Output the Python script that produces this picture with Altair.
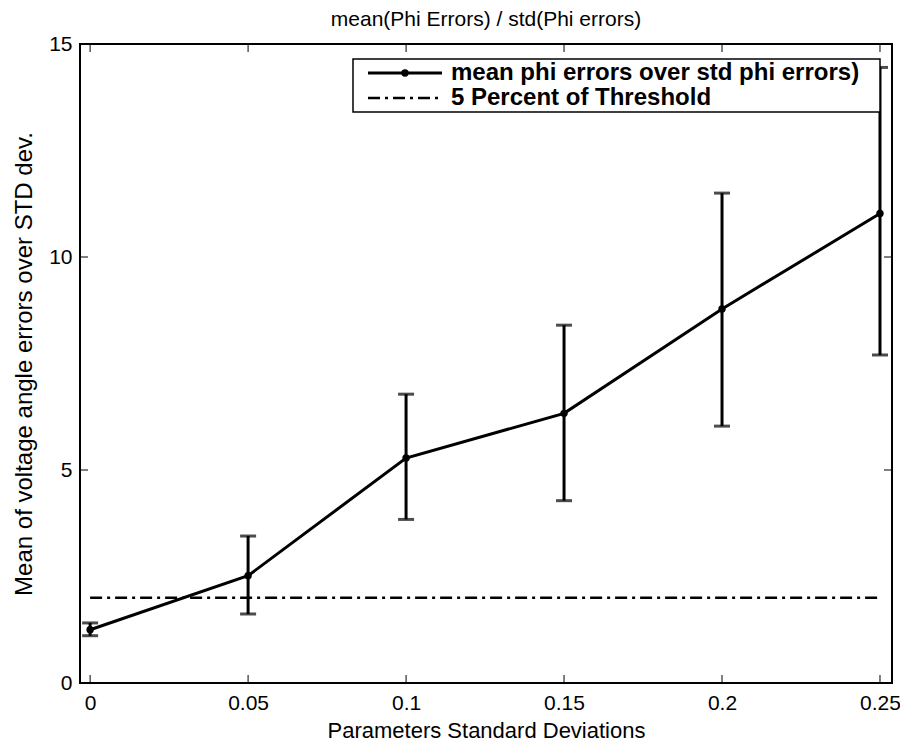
import altair as alt
import pandas as pd

# ---- data ----
xs = [0.0, 0.05, 0.10, 0.15, 0.20, 0.25]
means = [1.25, 2.52, 5.28, 6.33, 8.78, 11.02]
lower = [1.11, 1.62, 3.84, 4.28, 6.03, 7.70]
upper = [1.41, 3.45, 6.78, 8.40, 11.50, 14.45]

thr_x = [0.0, 0.25]
thr_y = [2.0, 2.0]

x_ticks = [0.0, 0.05, 0.10, 0.15, 0.20, 0.25]
y_ticks = [0, 5, 10, 15]

title_text = "mean(Phi Errors)  / std(Phi errors)"
x_title = "Parameters Standard Deviations"
y_title = "Mean of voltage angle errors over STD dev."
legend_labels = ["mean phi errors over std phi errors)", "5 Percent of Threshold"]

# ---- layout ----
W, H = 812, 639
FONT = "Liberation Sans"

df = pd.DataFrame({"x": xs, "mean": means, "lower": lower, "upper": upper})
thr = pd.DataFrame({"x": thr_x, "y": thr_y})
xt = pd.DataFrame({"x": x_ticks})
yt = pd.DataFrame({"y": y_ticks})

xscale = alt.Scale(domain=[-0.0032, 0.2538], nice=False, zero=False)
yscale = alt.Scale(domain=[0, 15], nice=False, zero=False)

x_axis = alt.Axis(values=x_ticks, format="~g", title=x_title, labelPadding=9,
                  titlePadding=7, titleFontSize=22)
y_axis = alt.Axis(values=y_ticks, title=y_title, labelPadding=8, titlePadding=12,
                  titleFontSize=24)


def X(field="x"):
    return alt.X(f"{field}:Q", scale=xscale, axis=x_axis)


def Y(field):
    return alt.Y(f"{field}:Q", scale=yscale, axis=y_axis)


DASH = [12, 5, 3, 5]

threshold = alt.Chart(thr).mark_line(
    color="black", strokeWidth=2.5, strokeDash=DASH
).encode(x=X(), y=Y("y"))

err_rule = alt.Chart(df).mark_rule(color="black", strokeWidth=3).encode(
    x=X(), y=Y("lower"), y2="upper:Q"
)
cap_lo = alt.Chart(df).mark_tick(
    color="black", orient="horizontal", size=16, thickness=3
).encode(x=X(), y=Y("lower"))
cap_hi = alt.Chart(df).mark_tick(
    color="black", orient="horizontal", size=16, thickness=3
).encode(x=X(), y=Y("upper"))

main_line = alt.Chart(df).mark_line(color="black", strokeWidth=3).encode(
    x=X(), y=Y("mean")
)
main_pts = alt.Chart(df).mark_point(
    color="black", filled=True, size=55, opacity=1
).encode(x=X(), y=Y("mean"))

# inward ticks on all four sides (MATLAB box style)
TL = 8
xt_bot = alt.Chart(xt).mark_rule(color="black", strokeWidth=1).encode(
    x=X(), y=alt.value(H - TL), y2=alt.value(H)
)
xt_top = alt.Chart(xt).mark_rule(color="black", strokeWidth=1).encode(
    x=X(), y=alt.value(0), y2=alt.value(TL)
)
yt_left = alt.Chart(yt).mark_rule(color="black", strokeWidth=1).encode(
    y=Y("y"), x=alt.value(0), x2=alt.value(TL)
)
yt_right = alt.Chart(yt).mark_rule(color="black", strokeWidth=1).encode(
    y=Y("y"), x=alt.value(W - TL), x2=alt.value(W)
)

# ---- legend box (drawn on top, like MATLAB) ----
one = pd.DataFrame({"k": [0]})
LX0, LX1, LY0, LY1 = 273, 800, 15, 68
R1, R2 = 29, 54
leg_box = alt.Chart(one).mark_rect(
    fill="white", stroke="black", strokeWidth=1.5
).encode(x=alt.value(LX0), x2=alt.value(LX1), y=alt.value(LY0), y2=alt.value(LY1))
leg_l1 = alt.Chart(one).mark_rule(color="black", strokeWidth=3).encode(
    x=alt.value(288), x2=alt.value(362), y=alt.value(R1)
)
leg_p1 = alt.Chart(one).mark_point(
    color="black", filled=True, size=55, opacity=1
).encode(x=alt.value(325), y=alt.value(R1))
leg_l2 = alt.Chart(one).mark_rule(
    color="black", strokeWidth=2.5, strokeDash=DASH
).encode(x=alt.value(288), x2=alt.value(362), y=alt.value(R2))
leg_t1 = alt.Chart(pd.DataFrame({"label": [legend_labels[0]]})).mark_text(
    align="left", baseline="middle", font=FONT, fontSize=24, fontWeight="bold",
    color="black"
).encode(x=alt.value(371), y=alt.value(R1), text="label:N")
leg_t2 = alt.Chart(pd.DataFrame({"label": [legend_labels[1]]})).mark_text(
    align="left", baseline="middle", font=FONT, fontSize=24, fontWeight="bold",
    color="black"
).encode(x=alt.value(371), y=alt.value(R2), text="label:N")

chart = alt.layer(
    threshold, err_rule, cap_lo, cap_hi, main_line, main_pts,
    xt_bot, xt_top, yt_left, yt_right,
    leg_box, leg_l1, leg_p1, leg_l2, leg_t1, leg_t2,
).properties(
    width=W, height=H,
    autosize=alt.AutoSizeParams(type="none"),
    padding={"left": 72, "top": 36, "right": 8, "bottom": 60},
    title=alt.TitleParams(title_text, fontSize=21, fontWeight="normal", font=FONT,
                          color="black", offset=3, anchor="middle"),
    background="white",
).configure_view(
    stroke="black", strokeWidth=2
).configure_axis(
    domain=False, ticks=False, grid=False,
    labelFont=FONT, labelFontSize=21, labelColor="black",
    titleFont=FONT, titleFontWeight="normal", titleColor="black",
)

chart.save("out.html", embed_options={"renderer": "svg", "actions": False})
